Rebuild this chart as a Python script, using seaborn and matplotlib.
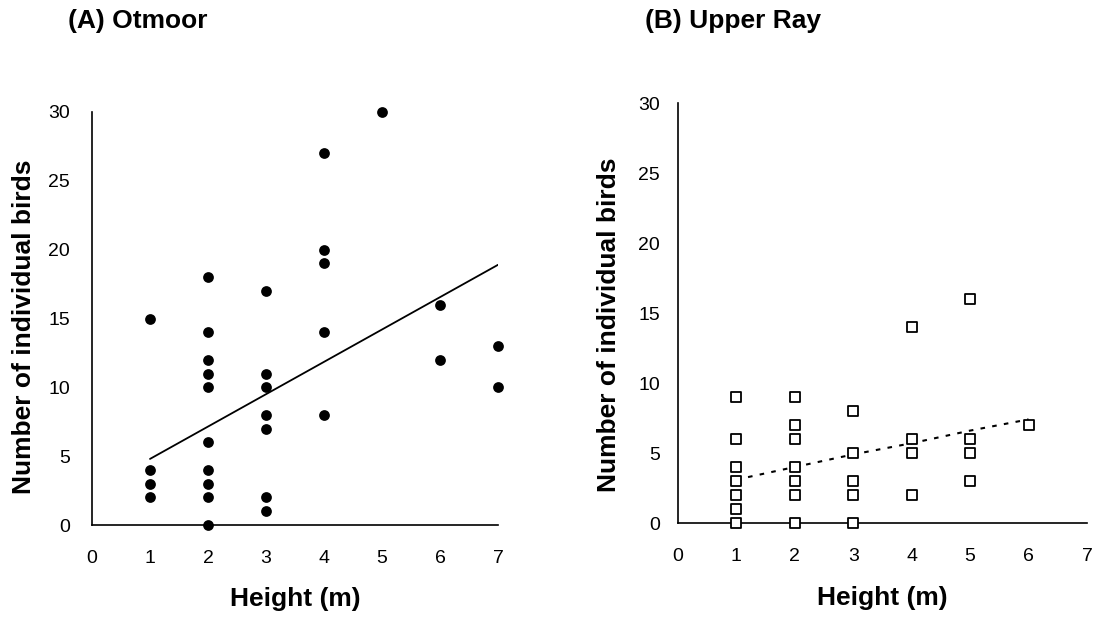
import matplotlib
matplotlib.use("Agg")
import matplotlib.pyplot as plt
import seaborn as sns
import pandas as pd

# ---- data ----
otmoor_height = [1, 1, 1, 1,
                 2, 2, 2, 2, 2, 2, 2, 2, 2, 2,
                 3, 3, 3, 3, 3, 3, 3,
                 4, 4, 4, 4, 4,
                 5,
                 6, 6,
                 7, 7]
otmoor_birds = [15, 4, 3, 2,
                18, 14, 12, 11, 10, 6, 4, 3, 2, 0,
                17, 11, 10, 8, 7, 2, 1,
                27, 20, 19, 14, 8,
                30,
                16, 12,
                13, 10]
otmoor_fit_x = [1, 7]
otmoor_fit_y = [4.8, 18.9]

ray_height = [1, 1, 1, 1, 1, 1, 1,
              2, 2, 2, 2, 2, 2, 2,
              3, 3, 3, 3, 3,
              4, 4, 4, 4,
              5, 5, 5, 5,
              6]
ray_birds = [9, 6, 4, 3, 2, 1, 0,
             9, 7, 6, 4, 3, 2, 0,
             8, 5, 3, 2, 0,
             14, 6, 5, 2,
             16, 6, 5, 3,
             7]
ray_fit_x = [1, 2, 3, 4, 5, 6]
ray_fit_y = [3.1, 4.0, 4.9, 5.7, 6.6, 7.4]

titles = ["(A) Otmoor", "(B) Upper Ray"]
xlabel = "Height (m)"
ylabel = "Number of individual birds"
xticks = [0, 1, 2, 3, 4, 5, 6, 7]
yticks = [0, 5, 10, 15, 20, 25, 30]

sns.set_style("white")
plt.rcParams['font.family'] = ['Liberation Sans', 'DejaVu Sans']
plt.rcParams['text.color'] = 'black'
plt.rcParams['axes.labelcolor'] = 'black'
plt.rcParams['xtick.color'] = 'black'
plt.rcParams['ytick.color'] = 'black'

fig = plt.figure(figsize=(11, 6.19), dpi=100)
W, H = 1100, 619
def ax_rect(l, r, t, b):
    return [l / W, 1 - b / H, (r - l) / W, (b - t) / H]

axA = fig.add_axes(ax_rect(92, 498, 112, 525))
axB = fig.add_axes(ax_rect(678, 1087, 103, 523))

dfA = pd.DataFrame({"h": otmoor_height, "n": otmoor_birds})
dfB = pd.DataFrame({"h": ray_height, "n": ray_birds})
fitA = pd.DataFrame({"h": otmoor_fit_x, "n": otmoor_fit_y})
fitB = pd.DataFrame({"h": ray_fit_x, "n": ray_fit_y})

sns.lineplot(data=fitA, x="h", y="n", ax=axA, color="black", lw=1.3)
sns.scatterplot(data=dfA, x="h", y="n", ax=axA, color="black", marker="o",
                s=60, edgecolor="black", linewidth=0, clip_on=False, zorder=3)

sns.lineplot(data=fitB, x="h", y="n", ax=axB, color="black", lw=1.5,
             linestyle=(0, (2.2, 3.5)))
sns.scatterplot(data=dfB, x="h", y="n", ax=axB, color="white", marker="s",
                s=52, edgecolor="black", linewidth=1.3, clip_on=False, zorder=3)

for ax, ypad in ((axA, 11), (axB, 8)):
    ax.set_xlim(0, 7)
    ax.set_ylim(0, 30)
    ax.set_xticks(xticks)
    ax.set_yticks(yticks)
    ax.set_xticklabels([str(v) for v in xticks])
    ax.set_yticklabels([str(v) for v in yticks])
    for s in ("top", "right"):
        ax.spines[s].set_visible(False)
    for s in ("left", "bottom"):
        ax.spines[s].set_color("black")
        ax.spines[s].set_linewidth(1.2)
    ax.tick_params(axis="both", direction="out", length=5, width=1.2,
                   color="black", labelsize=14, labelcolor="black")
    ax.tick_params(axis="x", pad=13)
    ax.tick_params(axis="y", pad=ypad)
    ax.set_xlabel(xlabel, fontsize=19, fontweight="bold", color="black")
    ax.set_ylabel(ylabel, fontsize=19, fontweight="bold", color="black")
    ax.grid(False)

axA.yaxis.set_label_coords(-0.138, 0.479)
axB.yaxis.set_label_coords(-0.139, 0.471)
axA.xaxis.set_label_coords(0.5, -0.149)
axB.xaxis.set_label_coords(0.5, -0.151)

fig.text(68 / W, 1 - 21 / H, titles[0], fontsize=19, fontweight="bold",
         ha="left", va="center", color="black")
fig.text(645 / W, 1 - 21 / H, titles[1], fontsize=19, fontweight="bold",
         ha="left", va="center", color="black")

fig.savefig("out.png", dpi=100, facecolor="white")
